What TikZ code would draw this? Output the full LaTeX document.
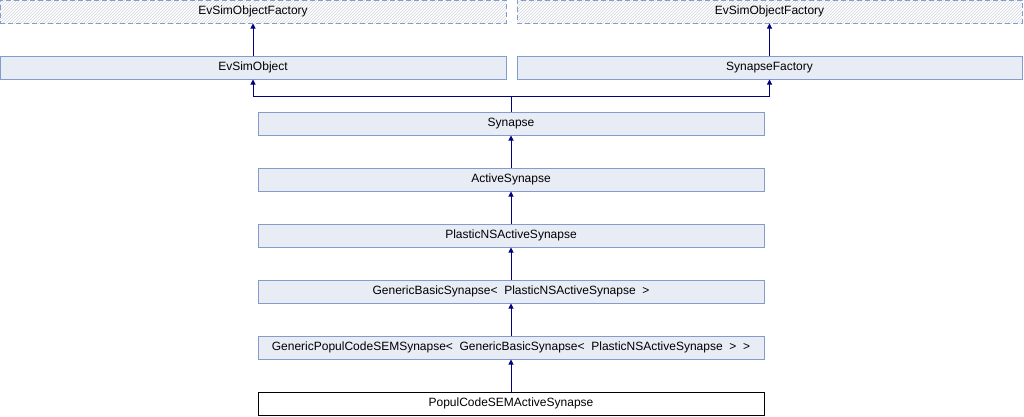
\documentclass[tikz,border=0pt]{standalone}
\usepackage{fontspec}
\setmainfont{Liberation Sans}
\usetikzlibrary{patterns,arrows.meta}
\definecolor{bord}{HTML}{849CCC}
\definecolor{boxfill}{HTML}{E8ECF5}
\definecolor{hatch}{HTML}{D0D4DC}
\definecolor{arr}{HTML}{000080}
\tikzset{
  cls/.style={draw=bord, fill=boxfill, line width=1pt, inner sep=0pt, font=\fontsize{12}{14}\selectfont},
  ext/.style={draw=bord, dashed, dash pattern=on 5pt off 3pt, line width=1pt, pattern=north east lines, pattern color=hatch, inner sep=0pt, font=\fontsize{12}{14}\selectfont},
  cur/.style={draw=black, fill=white, line width=1pt, inner sep=0pt, font=\fontsize{12}{14}\selectfont},
  inh/.style={draw=arr, line width=1pt, -{Triangle[length=5pt,width=5pt]}},
}
\begin{document}
\begin{tikzpicture}[x=1pt,y=-1pt]
\useasboundingbox (0,0) rectangle (1024,416);
\node[ext, minimum width=506pt, minimum height=23pt] (f1) at (253,11.5) {EvSimObjectFactory};
\node[ext, minimum width=505pt, minimum height=23pt] (f2) at (769.5,11.5) {EvSimObjectFactory};
\node[cls, minimum width=506pt, minimum height=23pt] (eso) at (253,67.5) {EvSimObject};
\node[cls, minimum width=505pt, minimum height=23pt] (sf) at (769.5,67.5) {SynapseFactory};
\node[cls, minimum width=506pt, minimum height=23pt] (syn) at (511,123.5) {Synapse};
\node[cls, minimum width=506pt, minimum height=23pt] (as) at (511,179.5) {ActiveSynapse};
\node[cls, minimum width=506pt, minimum height=23pt] (pns) at (511,235.5) {PlasticNSActiveSynapse};
\node[cls, minimum width=506pt, minimum height=23pt] (gbs) at (511,291.5) {GenericBasicSynapse\textless{}~ PlasticNSActiveSynapse ~\textgreater{}};
\node[cls, minimum width=506pt, minimum height=23pt] (gpc) at (511,347.5) {GenericPopulCodeSEMSynapse\textless{}~ GenericBasicSynapse\textless{}~ PlasticNSActiveSynapse ~\textgreater{}~ \textgreater{}};
\node[cur, minimum width=506pt, minimum height=23pt] (pcs) at (511,403.5) {PopulCodeSEMActiveSynapse};
\coordinate (j) at (511,96);
\draw[inh] (eso.north) -- (f1.south);
\draw[inh] (sf.north) -- (f2.south);
\draw[inh] (syn.north) -- (j) -| (eso.south);
\draw[inh] (j) -| (sf.south);
\draw[inh] (as.north) -- (syn.south);
\draw[inh] (pns.north) -- (as.south);
\draw[inh] (gbs.north) -- (pns.south);
\draw[inh] (gpc.north) -- (gbs.south);
\draw[inh] (pcs.north) -- (gpc.south);
\end{tikzpicture}
\end{document}
